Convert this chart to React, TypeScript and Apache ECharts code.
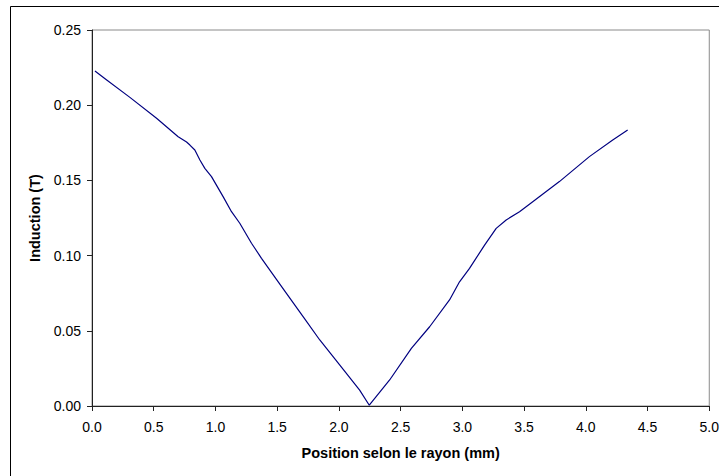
import React, { useEffect, useRef } from "react";
import * as echarts from "echarts";

const positions = [0.024, 0.119, 0.307, 0.523, 0.698, 0.766, 0.793, 0.833, 0.874, 0.914, 0.968, 1.062, 1.13, 1.197, 1.292, 1.373, 1.494, 1.575, 1.71, 1.845, 2.006, 2.168, 2.246, 2.411, 2.587, 2.735, 2.896, 2.977, 3.058, 3.18, 3.274, 3.355, 3.463, 3.57, 3.786, 4.029, 4.218, 4.339];
const induction = [0.2227, 0.2168, 0.2052, 0.1913, 0.179, 0.1755, 0.1735, 0.1702, 0.1636, 0.158, 0.1525, 0.1392, 0.1292, 0.1215, 0.1082, 0.0982, 0.0842, 0.0749, 0.0594, 0.0439, 0.0273, 0.0106, 0.0005, 0.0173, 0.0383, 0.0527, 0.0705, 0.0826, 0.0915, 0.107, 0.1181, 0.1237, 0.1292, 0.1358, 0.1492, 0.1658, 0.1769, 0.1835];

const xTitle = "Position selon le rayon (mm)";
const yTitle = "Induction (T)";

export default function App() {
  const ref = useRef<HTMLDivElement>(null);
  useEffect(() => {
    if (!ref.current) return;
    const chart = echarts.init(ref.current, null, { renderer: "svg" });
    const font = "Liberation Sans, Arial, sans-serif";
    chart.setOption({
      animation: false,
      backgroundColor: "#ffffff",
      grid: { left: 92, right: 12, top: 30, bottom: 70, show: true, borderColor: "#8a8a8a", borderWidth: 1 },
      graphic: [
        { type: "line", shape: { x1: 10.5, y1: 6.5, x2: 719, y2: 6.5 }, style: { stroke: "#000", lineWidth: 1 } },
        { type: "line", shape: { x1: 10.5, y1: 6.5, x2: 10.5, y2: 476 }, style: { stroke: "#000", lineWidth: 1 } },
      ],
      xAxis: {
        type: "value",
        min: 0,
        max: 5,
        interval: 0.5,
        name: xTitle,
        nameLocation: "middle",
        nameGap: 39,
        nameTextStyle: { fontFamily: font, fontSize: 14.5, fontWeight: "bold", color: "#000" },
        axisLine: { show: true, lineStyle: { color: "#222", width: 1 } },
        axisTick: { show: true, length: 5, inside: false, lineStyle: { color: "#222" } },
        axisLabel: { formatter: (v: number) => v.toFixed(1), fontFamily: font, fontSize: 14, color: "#000", margin: 14 },
        splitLine: { show: false },
      },
      yAxis: {
        type: "value",
        min: 0,
        max: 0.25,
        interval: 0.05,
        name: yTitle,
        nameLocation: "middle",
        nameGap: 50,
        nameRotate: 90,
        nameTextStyle: { fontFamily: font, fontSize: 14.5, fontWeight: "bold", color: "#000" },
        axisLine: { show: true, lineStyle: { color: "#222", width: 1 } },
        axisTick: { show: true, length: 5, inside: false, lineStyle: { color: "#222" } },
        axisLabel: { formatter: (v: number) => v.toFixed(2), fontFamily: font, fontSize: 14, color: "#000", margin: 11 },
        splitLine: { show: false },
      },
      series: [
        {
          type: "line",
          data: positions.map((x, i) => [x, induction[i]]),
          showSymbol: false,
          symbol: "none",
          lineStyle: { color: "#000080", width: 1.2 },
        },
      ],
    });
    return () => chart.dispose();
  }, []);
  return <div ref={ref} style={{ position: "fixed", left: 0, top: 0, width: 722, height: 476 }} />;
}
